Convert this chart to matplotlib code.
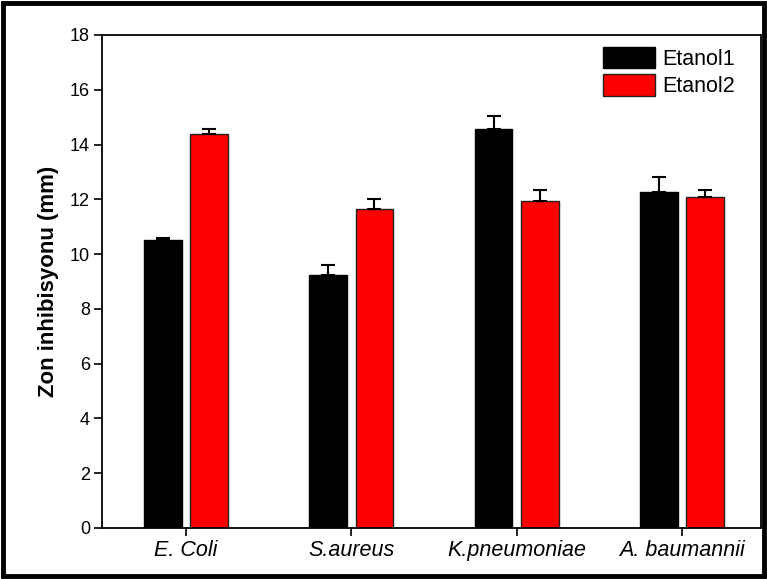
import numpy as np
import matplotlib
matplotlib.use('Agg')
import matplotlib.pyplot as plt
from matplotlib.patches import Rectangle

plt.rcParams['font.family'] = ['Liberation Sans', 'DejaVu Sans']

# data
categories = ['E. Coli', 'S.aureus', 'K.pneumoniae', 'A. baumannii']
etanol1 = [10.5, 9.25, 14.55, 12.25]
etanol1_err = [0.1, 0.35, 0.5, 0.55]
etanol2 = [14.37, 11.65, 11.95, 12.1]
etanol2_err = [0.2, 0.35, 0.4, 0.25]

fig = plt.figure(figsize=(7.67, 5.79), dpi=100)
ax = fig.add_axes([0.1336, 0.0881, 0.858, 0.8515])

x = np.arange(1, len(categories) + 1)
w = 0.228
off = 0.14
ax.bar(x - off, etanol1, w, color='black', edgecolor='black', linewidth=1,
       yerr=[np.zeros(4), etanol1_err], capsize=5,
       error_kw=dict(ecolor='black', elinewidth=1.5, capthick=1.5), label='Etanol1')
ax.bar(x + off, etanol2, w, color='#ff0000', edgecolor='#222222', linewidth=1,
       yerr=[np.zeros(4), etanol2_err], capsize=5,
       error_kw=dict(ecolor='black', elinewidth=1.5, capthick=1.5), label='Etanol2')

ax.set_xlim(0.495, 4.475)
ax.set_ylim(0, 18)
ax.set_yticks(range(0, 19, 2))
ax.set_xticks(x)
ax.set_xticklabels(categories, fontsize=15.5, style='italic')
ax.tick_params(axis='y', labelsize=13, length=6, width=1.2, direction='out', pad=3)
ax.tick_params(axis='x', length=6, width=1.2, direction='out', pad=3)
for s in ax.spines.values():
    s.set_linewidth(1.3)
ax.set_ylabel('Zon inhibisyonu (mm)', fontsize=16, fontweight='bold', labelpad=8)

ax.legend(loc='upper left', bbox_to_anchor=(0.7607, 0.9757), frameon=False,
          fontsize=15.5, handlelength=2.42, handleheight=1.16, handletextpad=0.35,
          labelspacing=0.19, borderpad=0, borderaxespad=0)

# thick frame around the whole picture
fig.patches.append(Rectangle((0.004, 0.005), 0.992, 0.99, transform=fig.transFigure,
                             fill=False, edgecolor='black', linewidth=3.5))

fig.savefig('out.png', dpi=100)
